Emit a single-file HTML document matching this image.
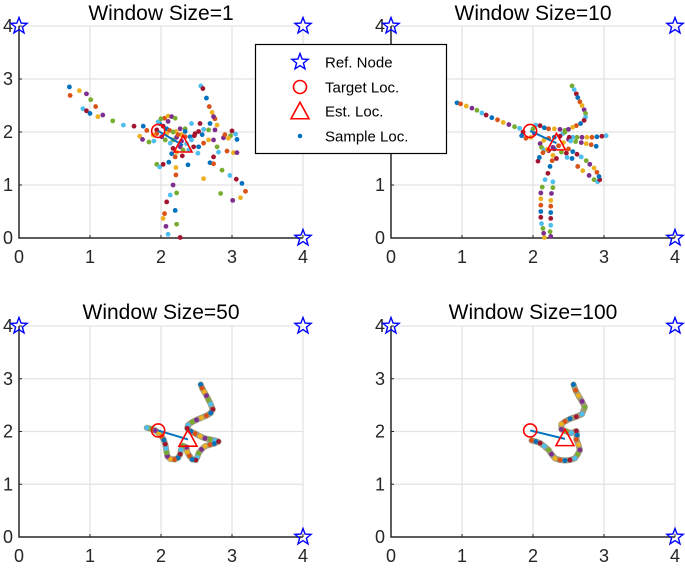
<!DOCTYPE html>
<html><head><meta charset="utf-8"><style>
html,body{margin:0;padding:0;background:#fff;}
svg{display:block;font-family:"Liberation Sans",Arial,sans-serif;}
</style></head><body>
<svg id="fig" width="685" height="568" viewBox="0 0 685 568"></svg>
<script>
const panelTitles = ["Window Size=1","Window Size=10","Window Size=50","Window Size=100"];
const tickValues = [0,1,2,3,4];
const refNodes = [[0,4],[4,4],[4,0]];
const targetLoc = [1.96,2.02];
const estLocs = [[2.31,1.75],[2.33,1.79],[2.38,1.85],[2.45,1.86]];
const samples1 = [[0.71,2.85],[0.72,2.69],[0.85,2.78],[0.95,2.72],[1.01,2.61],[0.9,2.44],[0.95,2.4],[1.0,2.35],[1.08,2.48],[1.11,2.29],[1.18,2.32],[1.32,2.21],[1.47,2.13],[1.62,2.11],[1.75,2.11],[1.8,2.03],[1.7,1.92],[1.74,1.86],[1.83,1.81],[1.9,1.83],[1.94,2.04],[1.98,2.16],[2.05,2.26],[2.1,2.3],[2.15,2.29],[2.2,2.26],[1.96,2.19],[2.03,2.11],[2.08,2.06],[2.12,2.03],[2.21,2.01],[2.27,2.06],[2.34,2.06],[2.43,2.16],[2.55,2.16],[2.69,2.16],[2.76,2.25],[2.79,2.13],[2.76,2.04],[2.67,2.04],[2.6,2.05],[2.48,1.97],[2.41,1.91],[2.34,1.91],[2.29,1.95],[2.22,1.9],[2.17,1.85],[2.13,1.79],[2.17,1.69],[2.15,1.59],[2.2,1.53],[2.22,1.62],[2.27,1.72],[2.31,1.66],[2.39,1.66],[2.46,1.72],[2.53,1.72],[2.6,1.79],[2.67,1.85],[2.74,1.85],[2.79,1.72],[2.81,1.62],[2.74,1.53],[2.69,1.42],[2.74,1.4],[2.6,1.12],[2.88,1.89],[2.98,1.93],[3.05,1.96],[3.0,2.02],[3.07,1.86],[2.93,1.64],[3.02,1.61],[3.07,1.61],[2.86,1.28],[2.97,1.18],[3.06,1.11],[3.14,1.03],[3.19,0.88],[3.12,0.76],[3.01,0.71],[2.84,0.84],[2.56,2.87],[2.59,2.82],[2.64,2.64],[2.68,2.48],[2.72,2.37],[2.74,2.29],[1.94,1.39],[1.98,1.34],[2.03,1.39],[2.11,1.43],[2.21,1.19],[2.21,1.33],[2.17,1.0],[2.22,0.85],[2.13,0.81],[2.08,0.68],[2.2,0.52],[2.05,0.46],[2.03,0.37],[2.07,0.22],[2.22,0.26],[2.1,0.07],[2.27,0.01],[2.38,1.38],[1.94,1.97],[1.89,1.94],[2.01,1.91],[2.06,1.85],[2.43,1.85],[2.53,2.01],[2.34,2.01],[2.24,1.95],[2.08,1.97],[2.29,1.83],[2.17,2.0],[2.36,1.78],[2.47,1.93],[2.58,1.95],[2.9,1.95],[2.95,1.88],[2.1,2.2],[2.0,2.25],[2.52,1.6],[2.3,1.55]];
const samples10 = [[0.93,2.55],[0.98,2.53],[1.06,2.49],[1.14,2.45],[1.21,2.41],[1.28,2.36],[1.34,2.32],[1.42,2.27],[1.5,2.23],[1.58,2.18],[1.66,2.14],[1.74,2.1],[1.81,2.07],[1.86,2.0],[1.84,1.93],[1.9,1.88],[1.97,1.9],[2.02,1.97],[2.0,2.06],[2.04,2.13],[2.1,2.12],[2.16,2.08],[2.22,2.06],[2.3,2.06],[2.38,2.05],[2.45,2.03],[2.42,1.97],[2.38,1.92],[2.3,1.9],[2.22,1.88],[2.15,1.84],[2.1,1.78],[2.12,1.71],[2.16,1.66],[2.22,1.65],[2.3,1.68],[2.36,1.74],[2.43,1.8],[2.5,1.86],[2.55,2.87],[2.58,2.8],[2.61,2.72],[2.63,2.65],[2.66,2.57],[2.69,2.5],[2.72,2.42],[2.74,2.35],[2.74,2.28],[2.72,2.22],[2.67,2.16],[2.61,2.12],[2.56,2.09],[2.5,2.05],[2.45,2.0],[3.03,1.93],[2.97,1.92],[2.9,1.91],[2.83,1.9],[2.76,1.9],[2.69,1.9],[2.62,1.9],[2.56,1.9],[2.51,1.9],[2.89,1.73],[2.82,1.76],[2.75,1.78],[2.68,1.8],[2.6,1.82],[2.53,1.83],[2.47,1.6],[2.55,1.5],[2.63,1.35],[2.7,1.27],[2.79,1.18],[2.86,1.1],[2.91,1.06],[2.94,1.1],[2.93,1.16],[2.9,1.24],[2.86,1.32],[2.8,1.39],[2.75,1.46],[2.68,1.53],[2.62,1.58],[2.56,1.63],[2.5,1.68],[2.16,0.01],[2.15,0.09],[2.14,0.18],[2.12,0.27],[2.11,0.39],[2.11,0.5],[2.11,0.62],[2.11,0.74],[2.11,0.85],[2.13,0.96],[2.17,1.1],[2.21,1.22],[2.24,1.35],[2.27,1.46],[2.28,1.56],[2.25,0.03],[2.24,0.12],[2.25,0.24],[2.25,0.37],[2.25,0.48],[2.25,0.6],[2.25,0.71],[2.26,0.84],[2.28,0.95],[2.28,1.06],[2.07,1.45],[2.09,1.52],[2.14,1.61],[2.2,1.67],[2.28,1.71],[2.4,1.62],[2.48,1.52],[2.33,1.5]];
const samples50 = [[2.56,2.89],[2.58,2.82],[2.61,2.75],[2.64,2.68],[2.67,2.6],[2.7,2.52],[2.73,2.42],[2.7,2.35],[2.64,2.3],[2.57,2.26],[2.5,2.22],[2.44,2.18],[2.38,2.12],[2.37,2.06],[2.42,2.0],[2.48,1.96],[2.55,1.91],[2.62,1.87],[2.69,1.85],[2.76,1.83],[2.81,1.81],[2.75,1.77],[2.69,1.75],[2.62,1.72],[2.57,1.66],[2.53,1.59],[2.51,1.51],[2.49,1.46],[2.44,1.47],[2.4,1.54],[2.37,1.61],[2.36,1.7],[2.31,1.73],[2.28,1.65],[2.27,1.57],[2.24,1.5],[2.19,1.47],[2.13,1.48],[2.09,1.53],[2.08,1.6],[2.07,1.68],[2.06,1.76],[2.04,1.84],[2.01,1.91],[1.97,1.97],[1.92,2.02],[1.86,2.05],[1.8,2.07]];
const samples100 = [[2.57,2.89],[2.6,2.78],[2.64,2.68],[2.69,2.57],[2.73,2.46],[2.69,2.33],[2.61,2.28],[2.52,2.24],[2.45,2.19],[2.4,2.14],[2.4,2.04],[2.47,2.0],[2.54,1.97],[2.61,2.01],[2.62,1.93],[2.61,1.85],[2.64,1.75],[2.66,1.65],[2.63,1.57],[2.59,1.49],[2.52,1.46],[2.45,1.45],[2.38,1.46],[2.31,1.49],[2.26,1.57],[2.22,1.65],[2.16,1.72],[2.1,1.78],[2.04,1.81],[1.98,1.83]];
const sampleSets = [samples1, samples10, samples50, samples100];
const palette = ["#0072BD","#D95319","#EDB120","#7E2F8E","#77AC30","#4DBEEE","#A2142F"];

const NS = "http://www.w3.org/2000/svg";
const svg = document.getElementById("fig");
function mk(tag, attrs, parent){const e=document.createElementNS(NS,tag);for(const k in attrs)e.setAttribute(k,attrs[k]);(parent||svg).appendChild(e);return e;}
const boxes = [{x0:19,x1:303,y0:238,y1:26,ty:20},{x0:391,x1:675,y0:238,y1:26,ty:20},{x0:19,x1:303,y0:537,y1:326,ty:319},{x0:391,x1:675,y0:537,y1:326,ty:319}];
function starPath(cx,cy,R){const r=R*0.42;let d="";for(let i=0;i<10;i++){const a=-Math.PI/2+i*Math.PI/5;const rr=i%2?r:R;d+=(i?"L":"M")+(cx+rr*Math.cos(a)).toFixed(1)+" "+(cy+rr*Math.sin(a)).toFixed(1);}return d+"Z";}
function triPath(cx,cy,s){return `M${cx} ${cy-s*0.65}L${cx+s*0.6} ${cy+s*0.45}L${cx-s*0.6} ${cy+s*0.45}Z`;}

boxes.forEach((b,pi)=>{
  const g=mk("g",{});
  
  
  const sx=v=>b.x0+(b.x1-b.x0)*v/4, sy=v=>b.y0+(b.y1-b.y0)*v/4;
  tickValues.forEach(t=>{
    if(t>0){const gl=mk("line",{x1:sx(t),x2:sx(t),y1:b.y0,y2:b.y1,stroke:"#e3e3e3","stroke-width":1.3},g);
      
      const gh=mk("line",{x1:b.x0,x2:b.x1,y1:sy(t),y2:sy(t),stroke:"#e3e3e3","stroke-width":1.3},g);
      }
  });
  const ax=mk("path",{d:`M${b.x0} ${b.y1}V${b.y0}H${b.x1}`,fill:"none",stroke:"#262626","stroke-width":1.5},g);
  
  tickValues.forEach(t=>{
    mk("line",{x1:sx(t),x2:sx(t),y1:b.y0,y2:b.y0-3,stroke:"#262626"},g);
    mk("line",{x1:b.x0,x2:b.x0+3,y1:sy(t),y2:sy(t),stroke:"#262626"},g);
    const xl=mk("text",{x:sx(t),y:b.y0+25,"text-anchor":"middle","font-size":"18",fill:"#262626"},g);xl.textContent=t;
    
    const yl=mk("text",{x:b.x0-6,y:sy(t)+6,"text-anchor":"end","font-size":"18",fill:"#262626"},g);yl.textContent=t;
    
  });
  const tt=mk("text",{x:(b.x0+b.x1)/2,y:b.ty,"text-anchor":"middle","font-size":"21",fill:"#000"},g);tt.textContent=panelTitles[pi];
  
  const pts=sampleSets[pi];
  if(pi>=2){const pl=mk("polyline",{points:pts.map(p=>sx(p[0])+","+sy(p[1])).join(" "),fill:"none",stroke:"#8d8a6a","stroke-width":6,"stroke-linejoin":"round","stroke-linecap":"round",opacity:0.85},g);
    }
  pts.forEach((p,i)=>{const c=mk("circle",{cx:sx(p[0]),cy:sy(p[1]),r:2.4,fill:palette[i%7]},g);
    });
  const e=estLocs[pi];
  const ln=mk("line",{x1:sx(targetLoc[0]),y1:sy(targetLoc[1]),x2:sx(e[0]),y2:sy(e[1]),stroke:"#0072BD","stroke-width":2},g);
  
  const tc=mk("circle",{cx:sx(targetLoc[0]),cy:sy(targetLoc[1]),r:6.5,fill:"none",stroke:"#ff0000","stroke-width":1.6},g);
  
  const tr=mk("path",{d:triPath(sx(e[0]),sy(e[1]),15),fill:"none",stroke:"#ff0000","stroke-width":1.6},g);
  
  refNodes.forEach(n=>{const s=mk("path",{d:starPath(sx(n[0]),sy(n[1]),8.5),fill:"none",stroke:"#0000ff","stroke-width":1.4},g);
    });
});

// legend
const lg=mk("g",{});


mk("rect",{x:255.5,y:44.5,width:191,height:109,fill:"#fff",stroke:"#000","stroke-width":1.2},lg);
const legendLabels=["Ref. Node","Target Loc.","Est. Loc.","Sample Loc."];
const legendY=[62,87,111,136];
mk("path",{d:starPath(300,legendY[0],8.5),fill:"none",stroke:"#0000ff","stroke-width":1.4},lg);
mk("circle",{cx:300,cy:legendY[1],r:6.5,fill:"none",stroke:"#ff0000","stroke-width":1.6},lg);
mk("path",{d:triPath(300,legendY[2]+1,15),fill:"none",stroke:"#ff0000","stroke-width":1.6},lg);
mk("circle",{cx:300,cy:legendY[3],r:2.3,fill:"#0072BD"},lg);
legendLabels.forEach((t,i)=>{const tx=mk("text",{x:325,y:legendY[i]+5.5,"font-size":"15",fill:"#000"},lg);tx.textContent=t;
  });
</script>
</body></html>
